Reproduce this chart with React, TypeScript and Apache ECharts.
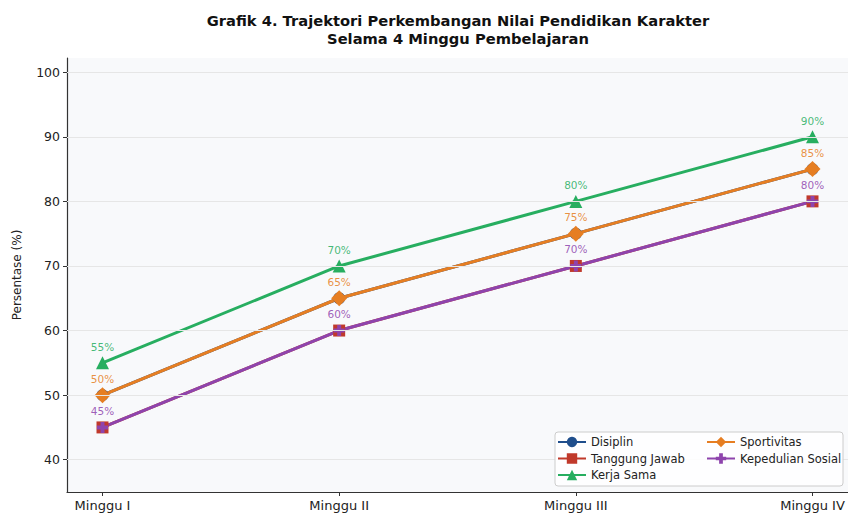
import React, { useEffect, useRef } from "react";
import * as echarts from "echarts";

const categories = ["Minggu I", "Minggu II", "Minggu III", "Minggu IV"];
const disiplin = [50, 65, 75, 85];
const tanggungJawab = [45, 60, 70, 80];
const kerjaSama = [55, 70, 80, 90];
const sportivitas = [50, 65, 75, 85];
const kepedulianSosial = [45, 60, 70, 80];
const yTicks = [40, 50, 60, 70, 80, 90, 100];

const FONT = "DejaVu Sans";
const PLUS = "path://M3.2,0H6.8V3.2H10V6.8H6.8V10H3.2V6.8H0V3.2H3.2Z";

function toPoints(vals: number[]) {
  return vals.map((v, i) => [i, v]);
}

export default function App() {
  const ref = useRef<HTMLDivElement>(null);
  useEffect(() => {
    if (!ref.current) return;
    const chart = echarts.init(ref.current, null, { renderer: "svg" });
    const mk = (
      name: string,
      vals: number[],
      color: string,
      symbol: string,
      size: number,
      showLabel: boolean,
      dist: number
    ) => ({
      name,
      type: "line",
      data: toPoints(vals),
      symbol,
      symbolSize: size,
      showSymbol: true,
      lineStyle: { width: 3, color },
      itemStyle: { color, borderColor: color, borderWidth: 0 },
      label: {
        show: showLabel,
        position: "top",
        distance: dist,
        formatter: (p: any) => p.value[1] + "%",
        color,
        opacity: 0.85,
        fontFamily: FONT,
        fontSize: 10.5,
      },
      emphasis: { disabled: true },
    });
    const legendCommon = {
      top: 436,
      orient: "vertical",
      itemWidth: 28,
      itemHeight: 13,
      itemGap: 4.5,
      padding: 0,
      z: 60,
      textStyle: { fontFamily: FONT, fontSize: 11.5, color: "#222" },
    };
    chart.setOption({
      animation: false,
      backgroundColor: "#ffffff",
      graphic: [
        {
          type: "text",
          x: 458,
          y: 11,
          z: 10,
          style: {
            text: "Grafik 4. Trajektori Perkembangan Nilai Pendidikan Karakter\nSelama 4 Minggu Pembelajaran",
            textAlign: "center",
            font: `bold 14.7px "${FONT}"`,
            lineHeight: 18,
            fill: "#111",
          },
        },
        {
          type: "rect",
          shape: { x: 555, y: 432, width: 288, height: 54, r: 3 },
          style: { fill: "rgba(255,255,255,0.85)", stroke: "#cccccc", lineWidth: 1 },
          z: 50,
        },
      ],
      grid: { left: 67, top: 58, width: 783, height: 434, backgroundColor: "#f8f9fb", show: true, borderWidth: 0 },
      xAxis: {
        type: "value",
        min: -0.15,
        max: 3.15,
        axisLine: { show: true, onZero: false, lineStyle: { color: "#333", width: 1.2 } },
        axisTick: { show: true, length: 4, lineStyle: { color: "#333" }, customValues: [0, 1, 2, 3] },
        axisLabel: {
          customValues: [0, 1, 2, 3],
          formatter: (v: number) => categories[Math.round(v)] ?? "",
          color: "#222",
          fontFamily: FONT,
          fontSize: 13,
          margin: 7,
        },
        splitLine: { show: false },
      },
      yAxis: {
        type: "value",
        min: 35,
        max: 102.2,
        name: "Persentase (%)",
        nameLocation: "middle",
        nameGap: 44,
        nameTextStyle: { fontFamily: FONT, fontSize: 12, color: "#222" },
        axisLine: { show: true, onZero: false, lineStyle: { color: "#333", width: 1.2 } },
        axisTick: { show: true, length: 4, lineStyle: { color: "#333" }, customValues: yTicks },
        axisLabel: {
          customValues: yTicks,
          color: "#222",
          fontFamily: FONT,
          fontSize: 12.5,
          margin: 7,
        },
        splitLine: { show: false },
      },
      legend: [
        { ...legendCommon, left: 557, data: ["Disiplin", "Tanggung Jawab", "Kerja Sama"] },
        { ...legendCommon, left: 706, data: ["Sportivitas", "Kepedulian Sosial"] },
      ],
      series: [
        {
          type: "line",
          silent: true,
          data: [],
          markLine: {
            silent: true,
            symbol: "none",
            label: { show: false },
            lineStyle: { color: "#e6e6e6", width: 1, type: "solid" },
            data: yTicks.map((t) => ({ yAxis: t })),
          },
        },
        mk("Disiplin", disiplin, "#1f4e8c", "circle", 12, false, 5),
        mk("Tanggung Jawab", tanggungJawab, "#c0392b", "rect", 12, false, 5),
        mk("Kerja Sama", kerjaSama, "#27ae60", "triangle", 13, true, 4),
        mk("Sportivitas", sportivitas, "#e67e22", "diamond", 16, true, 3),
        mk("Kepedulian Sosial", kepedulianSosial, "#8e44ad", PLUS, 11, true, 5.5),
      ],
    });
    return () => chart.dispose();
  }, []);
  return <div ref={ref} style={{ position: "fixed", left: 0, top: 0, width: 848, height: 515 }} />;
}
